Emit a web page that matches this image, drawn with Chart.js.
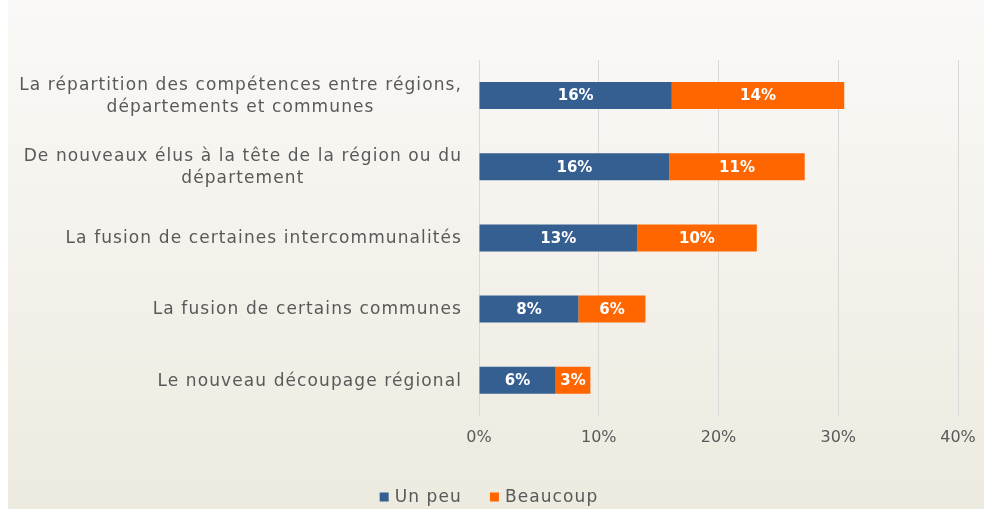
<!DOCTYPE html>
<html lang="fr">
<head>
<meta charset="UTF-8" />
<title>Changements territoriaux</title>
<script src="https://cdn.jsdelivr.net/npm/chart.js"></script>
<style>
  html, body { margin: 0; padding: 0; background: #fff; }
  #wrap { width: 984px; height: 511px; }
</style>
</head>
<body>
<div id="wrap"><canvas id="chart"></canvas></div>
<script>
  // categories (one array of lines per bar)
  const categories = [
    ['La répartition des compétences entre régions,', 'départements et communes'],
    ['De nouveaux élus à la tête de la région ou du', 'département'],
    ['La fusion de certaines intercommunalités'],
    ['La fusion de certains communes'],
    ['Le nouveau découpage régional']
  ];
  const unPeu    = [16.1, 15.9, 13.2, 8.3, 6.4];
  const beaucoup = [14.4, 11.3, 10.0, 5.6, 2.9];
  const xTicks   = [0, 10, 20, 30, 40];
  const colors   = ['#365f91', '#ff6600'];

  const FONT = '"DejaVu Sans", "Noto Sans", sans-serif';
  const GREY = '#595959';
  const SPACING = '1.1px';

  // beige gradient background
  const bgPlugin = {
    id: 'bg',
    beforeDraw(chart) {
      const ctx = chart.ctx;
      ctx.save();
      const g = ctx.createLinearGradient(0, 0, 0, chart.height);
      g.addColorStop(0, '#faf9f7');
      g.addColorStop(1, '#edeadf');
      ctx.fillStyle = g;
      ctx.fillRect(8, 0, chart.width - 8, chart.height - 2);
      ctx.restore();
    }
  };

  // category labels: right-aligned block, lines centred in the block
  const yLabelPlugin = {
    id: 'yLabels',
    afterDraw(chart) {
      const ctx = chart.ctx;
      const y = chart.scales.y;
      const right = chart.chartArea.left - 17;
      ctx.save();
      ctx.font = '17px ' + FONT;
      ctx.letterSpacing = SPACING;
      ctx.fillStyle = GREY;
      ctx.textAlign = 'center';
      ctx.textBaseline = 'middle';
      const lh = 22;
      categories.forEach((lines, i) => {
        const cy = y.getPixelForValue(i);
        const w = Math.max(...lines.map(l => ctx.measureText(l).width));
        const cx = right - w / 2;
        lines.forEach((l, k) => {
          ctx.fillText(l, cx, cy + 1 + (k - (lines.length - 1) / 2) * lh);
        });
      });
      ctx.restore();
    }
  };

  // white percentage labels inside the segments
  const barLabelPlugin = {
    id: 'barLabels',
    afterDatasetsDraw(chart) {
      const ctx = chart.ctx;
      ctx.save();
      ctx.font = 'bold 15px ' + FONT;
      ctx.fillStyle = '#ffffff';
      ctx.textAlign = 'center';
      ctx.textBaseline = 'middle';
      chart.data.datasets.forEach((ds, di) => {
        chart.getDatasetMeta(di).data.forEach((bar, i) => {
          const p = bar.getProps(['x', 'y', 'base'], true);
          ctx.fillText(Math.round(ds.data[i]) + '%', (p.x + p.base) / 2, p.y + 1);
        });
      });
      ctx.restore();
    }
  };

  // legend at the bottom, centred under the whole picture
  const legendPlugin = {
    id: 'bottomLegend',
    afterDraw(chart) {
      const ctx = chart.ctx;
      ctx.save();
      ctx.font = '17px ' + FONT;
      ctx.letterSpacing = SPACING;
      ctx.textBaseline = 'middle';
      ctx.textAlign = 'left';
      const box = 9, gapText = 6, gapItem = 28, cy = 497;
      const items = chart.data.datasets.map(ds => ({
        text: ds.label, color: ds.backgroundColor, w: ctx.measureText(ds.label).width
      }));
      const total = items.reduce((s, it) => s + box + gapText + it.w, 0) + gapItem * (items.length - 1);
      let x = 489 - total / 2;
      items.forEach(it => {
        ctx.fillStyle = it.color;
        ctx.fillRect(x, cy - box / 2, box, box);
        ctx.fillStyle = GREY;
        ctx.fillText(it.text, x + box + gapText, cy + 1);
        x += box + gapText + it.w + gapItem;
      });
      ctx.restore();
    }
  };

  new Chart(document.getElementById('chart'), {
    type: 'bar',
    data: {
      labels: categories.map(c => c.join(' ')),
      datasets: [
        { label: 'Un peu', data: unPeu, backgroundColor: colors[0] },
        { label: 'Beaucoup', data: beaucoup, backgroundColor: colors[1] }
      ]
    },
    options: {
      indexAxis: 'y',
      responsive: true,
      maintainAspectRatio: false,
      animation: false,
      layout: { padding: { left: 479, top: 60, right: 26, bottom: 52 } },
      datasets: { bar: { categoryPercentage: 1, barPercentage: 0.38 } },
      scales: {
        x: {
          stacked: true,
          min: 0,
          max: 40,
          afterBuildTicks(axis) { axis.ticks = xTicks.map(v => ({ value: v })); },
          afterFit(axis) { axis.paddingRight = 0; axis.paddingLeft = 0; },
          grid: { color: '#d9d9d9', drawTicks: false },
          border: { display: false },
          ticks: {
            padding: 12,
            color: GREY,
            font: { family: FONT, size: 16 },
            callback: v => v + '%'
          }
        },
        y: {
          stacked: true,
          display: false
        }
      },
      plugins: {
        legend: { display: false },
        tooltip: { enabled: false }
      }
    },
    plugins: [bgPlugin, yLabelPlugin, barLabelPlugin, legendPlugin]
  });
</script>
</body>
</html>
